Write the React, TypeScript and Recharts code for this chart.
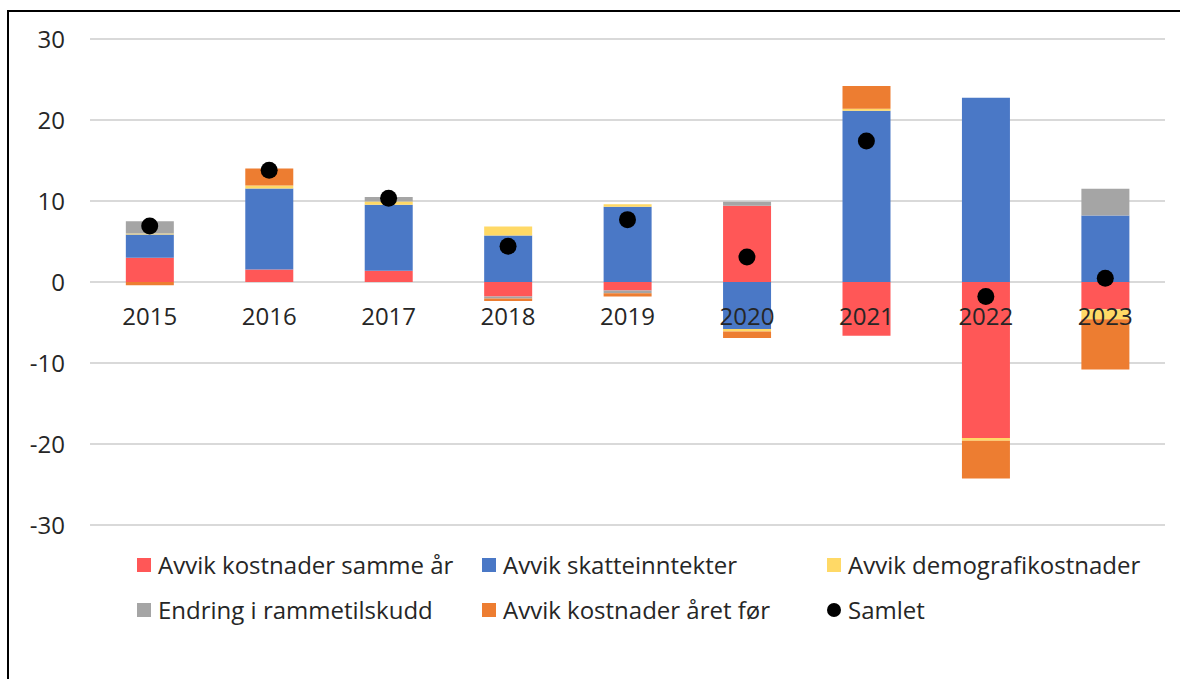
import { ComposedChart, Bar, Line, XAxis, YAxis, CartesianGrid } from "recharts";

// År på x-aksen
const years = ["2015", "2016", "2017", "2018", "2019", "2020", "2021", "2022", "2023"];

// Komponenter (mrd. kr), lest av figuren
const kostnaderSammeAr = [3.0, 1.55, 1.4, -1.8, -1.05, 9.4, -6.65, -19.25, -3.35];
const skatteinntekter = [2.85, 10.0, 8.15, 5.75, 9.3, -5.8, 21.15, 22.75, 8.2];
const demografikostnader = [0.15, 0.35, 0.4, 1.1, 0.3, -0.3, 0.25, -0.35, -1.25];
const rammetilskudd = [1.5, 0, 0.55, -0.25, -0.35, 0.5, 0, 0, 3.3];
const kostnaderAretFor = [-0.4, 2.1, 0, -0.3, -0.4, -0.8, 2.8, -4.65, -6.2];
const samlet = [6.9, 13.8, 10.35, 4.4, 7.7, 3.1, 17.4, -1.8, 0.45];

const yTicks = [-30, -20, -10, 0, 10, 20, 30];

const series = [
  { key: "sammeAr", name: "Avvik kostnader samme år", color: "#FF5757", values: kostnaderSammeAr },
  { key: "skatt", name: "Avvik skatteinntekter", color: "#4A78C6", values: skatteinntekter },
  { key: "demografi", name: "Avvik demografikostnader", color: "#FFD966", values: demografikostnader },
  { key: "ramme", name: "Endring i rammetilskudd", color: "#A5A5A5", values: rammetilskudd },
  { key: "aretFor", name: "Avvik kostnader året før", color: "#ED7D31", values: kostnaderAretFor },
];

const data = years.map((year, i) => {
  const row: Record<string, number | string> = { year, samlet: samlet[i] };
  series.forEach((s) => (row[s.key] = s.values[i]));
  return row;
});

const W = 1180;
const H = 679;
const M_TOP = 39;
const X_AXIS_H = 30;
const M_BOTTOM = 124;
const PLOT_H = H - M_TOP - M_BOTTOM - X_AXIS_H;
const FONT = "'Open Sans', 'Noto Sans', sans-serif";
const TEXT = "#262626";

// årstall står rett under nullinja, som i Excel
function YearTick({ x, payload }: any) {
  const cy = M_TOP + PLOT_H / 2 + 35;
  return (
    <text x={x} y={cy} dy="0.35em" textAnchor="middle" fontSize={24} fill={TEXT} fontFamily={FONT}>
      {payload.value}
    </text>
  );
}

const legendItems = [
  ...series.map((s) => ({ name: s.name, color: s.color, round: false })),
  { name: "Samlet", color: "#000", round: true },
];

export default function App() {
  return (
    <div style={{ position: "absolute", left: 0, top: 0, width: W, height: H, overflow: "hidden", background: "#fff", fontFamily: FONT }}>
      <div style={{ position: "absolute", left: 7, top: 10, width: W, height: H, borderTop: "2px solid #000", borderLeft: "2px solid #000" }} />
      <div style={{ position: "absolute", left: 0, top: 0 }}>
        <ComposedChart
          width={W}
          height={H}
          data={data}
          stackOffset="sign"
          barCategoryGap="30%"
          margin={{ top: M_TOP, right: 15, left: 0, bottom: M_BOTTOM }}
        >
          <CartesianGrid vertical={false} stroke="#d9d9d9" strokeWidth={2} />
          <YAxis
            domain={[-30, 30]}
            ticks={yTicks}
            width={90}
            axisLine={false}
            tickLine={false}
            tickSize={0}
            tickMargin={25}
            tick={{ fontSize: 24, fill: TEXT, fontFamily: FONT }}
          />
          {series.map((s) => (
            <Bar key={s.key} dataKey={s.key} name={s.name} stackId="a" fill={s.color} isAnimationActive={false} />
          ))}
          <Line
            dataKey="samlet"
            name="Samlet"
            stroke="none"
            dot={{ r: 8.5, fill: "#000", stroke: "none" }}
            activeDot={false}
            isAnimationActive={false}
          />
          <XAxis
            dataKey="year"
            height={X_AXIS_H}
            axisLine={false}
            tickLine={false}
            tickSize={0}
            interval={0}
            tick={<YearTick />}
          />
        </ComposedChart>
      </div>
      <div
        style={{
          position: "absolute",
          left: 137,
          top: 542,
          display: "grid",
          gridTemplateColumns: "345px 345px 345px",
          rowGap: 0,
          fontSize: 24,
          color: TEXT,
        }}
      >
        {legendItems.map((it) => (
          <div key={it.name} style={{ display: "flex", alignItems: "center", height: 45, whiteSpace: "nowrap" }}>
            <span
              style={{
                width: 14,
                height: 14,
                background: it.color,
                borderRadius: it.round ? "50%" : 0,
                marginRight: 7,
                flexShrink: 0,
              }}
            />
            {it.name}
          </div>
        ))}
      </div>
    </div>
  );
}
